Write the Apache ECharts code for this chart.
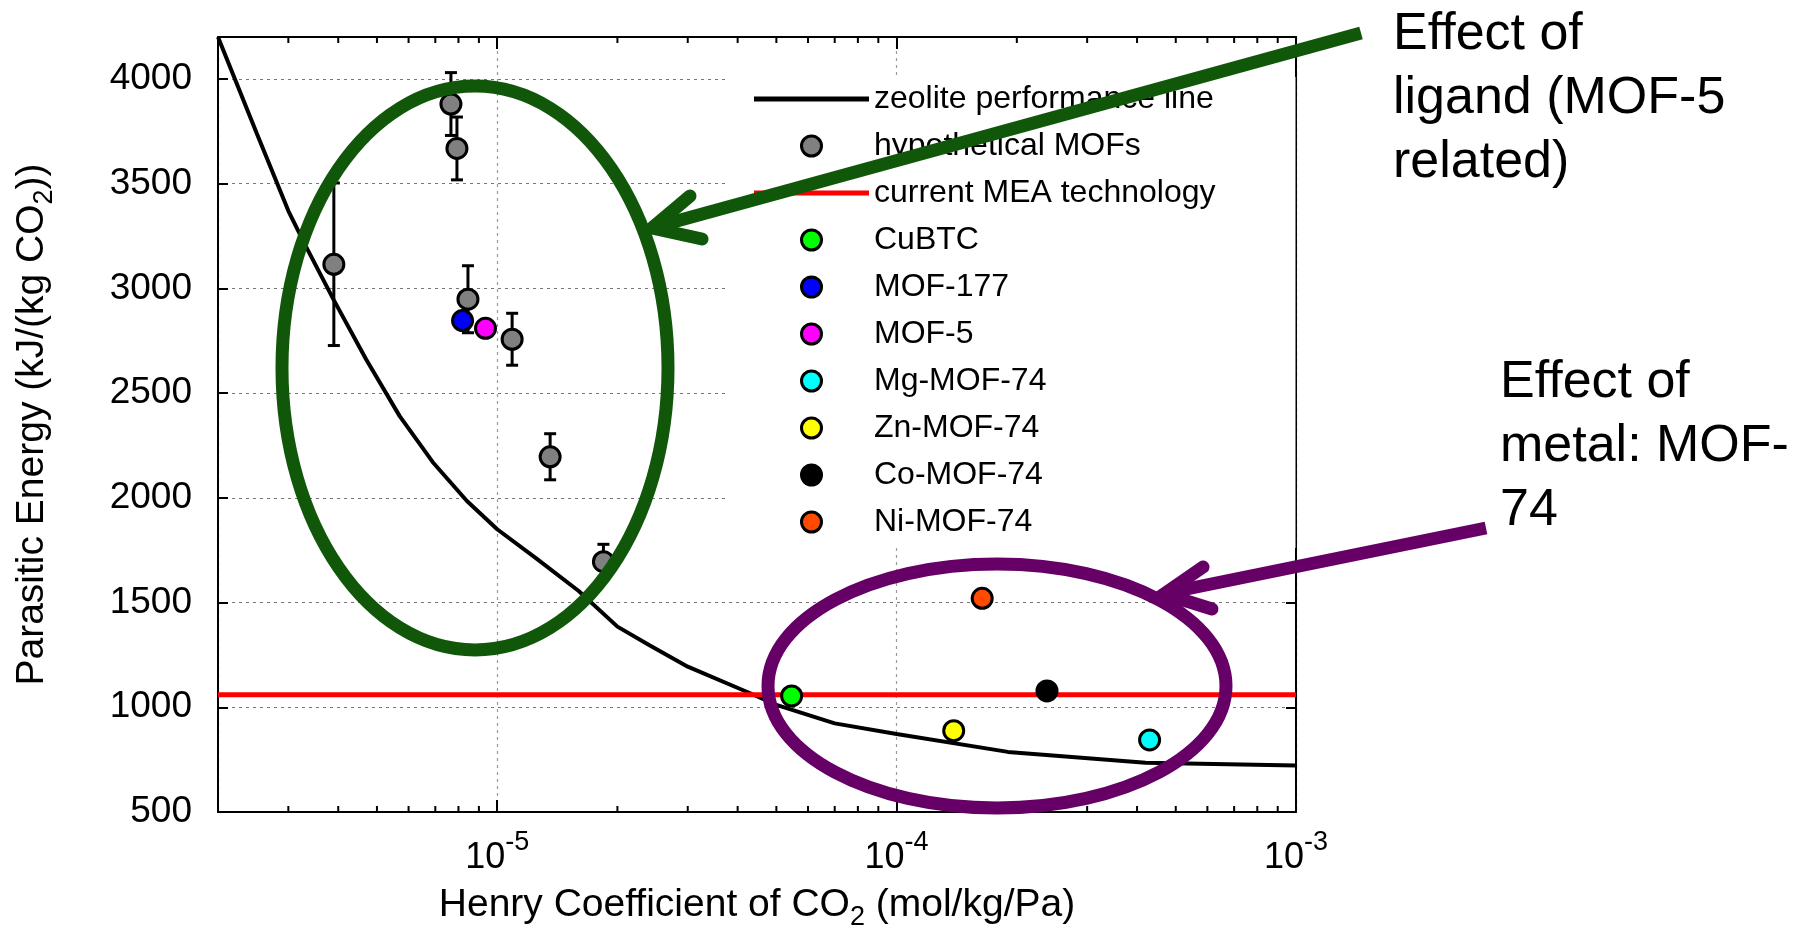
<!DOCTYPE html>
<html>
<head>
<meta charset="utf-8">
<script src="https://cdn.jsdelivr.net/npm/echarts@6/dist/echarts.min.js"></script>
<style>
html, body { margin: 0; padding: 0; background: #fff; }
#chart { width: 1810px; height: 930px; }
</style>
</head>
<body>
<div id="chart"></div>
<script>
// Zeolite performance line: Henry coefficient (mol/kg/Pa) vs parasitic energy (kJ/kg CO2)
const zeoliteX = [2.0e-6, 2.5e-6, 3.0e-6, 3.3e-6, 3.9e-6, 4.7e-6, 5.7e-6, 6.9e-6, 8.4e-6, 1.0e-5,
                  1.25e-5, 1.6e-5, 2.0e-5, 2.4e-5, 3.0e-5, 4.3e-5, 5.0e-5, 7.0e-5, 1.0e-4, 1.9e-4,
                  4.2e-4, 1.0e-3];
const zeoliteY = [4200, 3740, 3370, 3210, 2944, 2660, 2390, 2170, 1985, 1850,
                  1712, 1555, 1385, 1297, 1194, 1067, 1011, 923, 872, 787,
                  735, 722];

// Current MEA technology level
const meaEnergy = 1060;

// Hypothetical MOFs with error-bar half widths
const hypoX = [3.9e-6, 7.66e-6, 7.93e-6, 8.45e-6, 1.09e-5, 1.357e-5, 1.845e-5];
const hypoY = [3115, 3880, 3668, 2948, 2757, 2196, 1695];
const hypoErr = [388, 150, 150, 160, 124, 110, 83];

// Known materials
const materialNames = ['CuBTC', 'MOF-177', 'MOF-5', 'Mg-MOF-74', 'Zn-MOF-74', 'Co-MOF-74', 'Ni-MOF-74'];
const materialX = [5.46e-5, 8.19e-6, 9.35e-6, 4.3e-4, 1.39e-4, 2.38e-4, 1.638e-4];
const materialY = [1054, 2846, 2809, 844, 888, 1078, 1520];
const materialColors = ['#00ff00', '#0000ff', '#ff00ff', '#00ffff', '#ffff00', '#000000', '#ff4a00'];

// Axis ranges and log minor ticks
const xMin = 2e-6, xMax = 1e-3;
const yMin = 500, yMax = 4200, yStep = 500;
const minorTickValues = [3e-6, 4e-6, 5e-6, 6e-6, 7e-6, 8e-6, 9e-6,
                         2e-5, 3e-5, 4e-5, 5e-5, 6e-5, 7e-5, 8e-5, 9e-5,
                         2e-4, 3e-4, 4e-4, 5e-4, 6e-4, 7e-4, 8e-4, 9e-4];

const FONT = "'Liberation Sans', Arial, sans-serif";
const GREEN = '#10570a';
const PURPLE = '#660066';
// plain bar used as the legend swatch of the two line series
const LINE_ICON = 'path://M0,0L115,0L115,5L0,5Z';

const chart = echarts.init(document.getElementById('chart'), null, { renderer: 'canvas' });

function renderErrorBar(params, api) {
  const x = api.value(0);
  const lo = api.coord([x, api.value(1)]);
  const hi = api.coord([x, api.value(2)]);
  const half = 6;
  const style = { stroke: '#000', lineWidth: 3 };
  return {
    type: 'group',
    children: [
      { type: 'line', shape: { x1: lo[0], y1: lo[1], x2: hi[0], y2: hi[1] }, style: style },
      { type: 'line', shape: { x1: lo[0] - half, y1: lo[1], x2: lo[0] + half, y2: lo[1] }, style: style },
      { type: 'line', shape: { x1: hi[0] - half, y1: hi[1], x2: hi[0] + half, y2: hi[1] }, style: style }
    ]
  };
}

function renderMinorTick(params, api) {
  const x = api.value(0);
  const b = api.coord([x, yMin]);
  const t = api.coord([x, yMax]);
  const len = 6;
  const style = { stroke: '#000', lineWidth: 2 };
  return {
    type: 'group',
    children: [
      { type: 'line', shape: { x1: b[0], y1: b[1], x2: b[0], y2: b[1] - len }, style: style },
      { type: 'line', shape: { x1: t[0], y1: t[1], x2: t[0], y2: t[1] + len }, style: style }
    ]
  };
}

function decadeLabel(v) {
  const e = Math.round(Math.log10(v));
  if (Math.abs(Math.log10(v) - e) > 1e-6) return '';
  return '10{sup|' + e + '}';
}

const axisLineStyle = { lineStyle: { color: '#000', width: 2 } };

const series = [
  {
    name: 'zeolite performance line',
    type: 'line',
    data: zeoliteX.map((x, i) => [x, zeoliteY[i]]),
    symbol: 'none',
    lineStyle: { color: '#000', width: 4 },
    itemStyle: { color: '#000' },
    z: 2
  },
  {
    name: 'current MEA technology',
    type: 'line',
    data: [[xMin, meaEnergy], [xMax, meaEnergy]],
    symbol: 'none',
    lineStyle: { color: '#ff0000', width: 5 },
    itemStyle: { color: '#ff0000' },
    z: 2
  },
  {
    name: 'errorBars',
    type: 'custom',
    renderItem: renderErrorBar,
    data: hypoX.map((x, i) => [x, hypoY[i] - hypoErr[i], hypoY[i] + hypoErr[i]]),
    encode: { x: 0, y: [1, 2] },
    clip: false,
    silent: true,
    z: 3
  },
  {
    name: 'hypothetical MOFs',
    type: 'scatter',
    data: hypoX.map((x, i) => [x, hypoY[i]]),
    symbol: 'circle',
    symbolSize: 20,
    itemStyle: { color: '#808080', borderColor: '#000', borderWidth: 3, opacity: 1 },
    z: 4
  },
  {
    name: 'minorTicks',
    type: 'custom',
    renderItem: renderMinorTick,
    data: minorTickValues.map(v => [v, yMin]),
    encode: { x: 0, y: 1 },
    clip: false,
    silent: true,
    z: 6
  }
];

materialNames.forEach((name, i) => {
  series.push({
    name: name,
    type: 'scatter',
    data: [[materialX[i], materialY[i]]],
    symbol: 'circle',
    symbolSize: 20,
    itemStyle: { color: materialColors[i], borderColor: '#000', borderWidth: 3, opacity: 1 },
    z: 4
  });
});

const legendData = [
  { name: 'zeolite performance line', icon: LINE_ICON, itemStyle: { color: '#000', borderWidth: 0 } },
  { name: 'hypothetical MOFs' },
  { name: 'current MEA technology', icon: LINE_ICON, itemStyle: { color: '#ff0000', borderWidth: 0 } }
].concat(materialNames.map(n => ({ name: n })));

// subscript "2": a taller line box pushes the bottom-aligned digit below the baseline
const subStyle = { fontSize: 27, lineHeight: 51, verticalAlign: 'bottom', fontFamily: FONT, color: '#000' };

const option = {
  animation: false,
  backgroundColor: '#fff',
  textStyle: { fontFamily: FONT },
  grid: { left: 218, top: 37, width: 1078, height: 775, outerBoundsMode: 'none', containLabel: false },
  legend: {
    data: legendData,
    orient: 'vertical',
    left: 727,
    top: 77,
    padding: [6, 80, 10, 27],
    backgroundColor: '#fff',
    itemWidth: 115,
    itemHeight: 20,
    itemGap: 15,
    selectedMode: false,
    textStyle: { fontSize: 32, lineHeight: 32, color: '#000', fontFamily: FONT },
    itemStyle: { borderWidth: 3 },
    lineStyle: { width: 5 },
    z: 5
  },
  xAxis: [
    {
      type: 'log',
      logBase: 10,
      min: xMin,
      max: xMax,
      position: 'bottom',
      axisLine: Object.assign({ show: true, onZero: false }, axisLineStyle),
      axisTick: { show: true, inside: true, length: 12, lineStyle: { color: '#000', width: 2 } },
      axisLabel: {
        show: true,
        formatter: decadeLabel,
        color: '#000',
        fontFamily: FONT,
        fontSize: 36,
        lineHeight: 58,
        margin: 17,
        rich: {
          sup: { fontSize: 27, verticalAlign: 'top', fontFamily: FONT, color: '#000' }
        }
      },
      splitLine: { show: true, lineStyle: { color: '#9a9a9a', width: 1.2, type: [3, 4] } },
      name: 'Henry Coefficient of CO{sub|2} (mol/kg/Pa)',
      nameLocation: 'middle',
      nameGap: 68,
      nameMoveOverlap: false,
      nameTextStyle: {
        fontSize: 39,
        lineHeight: 42,
        color: '#000',
        fontFamily: FONT,
        rich: { sub: subStyle }
      }
    },
    {
      type: 'log',
      logBase: 10,
      min: xMin,
      max: xMax,
      position: 'top',
      axisLine: Object.assign({ show: true, onZero: false }, axisLineStyle),
      axisTick: { show: true, inside: true, length: 12, lineStyle: { color: '#000', width: 2 } },
      axisLabel: { show: false },
      splitLine: { show: false }
    }
  ],
  yAxis: [
    {
      type: 'value',
      min: yMin,
      max: yMax,
      interval: yStep,
      position: 'left',
      axisLine: Object.assign({ show: true, onZero: false }, axisLineStyle),
      axisTick: { show: true, inside: true, length: 10, lineStyle: { color: '#000', width: 2 } },
      axisLabel: {
        show: true,
        color: '#000',
        fontFamily: FONT,
        fontSize: 37,
        margin: 26,
        formatter: v => (v > 4000 ? '' : String(v))
      },
      splitLine: { show: true, lineStyle: { color: '#777', width: 1.2, type: [3, 4] } },
      name: 'Parasitic Energy (kJ/(kg CO{sub|2}))',
      nameLocation: 'middle',
      nameRotate: 90,
      nameGap: 160,
      nameTextStyle: {
        fontSize: 39,
        lineHeight: 42,
        color: '#000',
        fontFamily: FONT,
        rich: { sub: subStyle }
      }
    },
    {
      type: 'value',
      min: yMin,
      max: yMax,
      interval: yStep,
      position: 'right',
      axisLine: Object.assign({ show: true, onZero: false }, axisLineStyle),
      axisTick: { show: true, inside: true, length: 10, lineStyle: { color: '#000', width: 2 } },
      axisLabel: { show: false },
      splitLine: { show: false }
    }
  ],
  series: series,
  graphic: [
    // Ligand group outline and its callout
    { type: 'ellipse', z: 100, silent: true,
      shape: { cx: 475, cy: 368, rx: 193, ry: 282 },
      style: { fill: 'none', stroke: GREEN, lineWidth: 13 } },
    { type: 'line', z: 100, silent: true,
      shape: { x1: 655, y1: 227, x2: 1361, y2: 33 },
      style: { stroke: GREEN, lineWidth: 13, lineCap: 'butt' } },
    { type: 'polyline', z: 100, silent: true,
      shape: { points: [[690, 196], [652, 228], [702, 239]] },
      style: { fill: 'none', stroke: GREEN, lineWidth: 13, lineCap: 'round', lineJoin: 'miter' } },
    { type: 'text', z: 100, silent: true, left: 1393, top: 3,
      style: { text: 'Effect of\nligand (MOF-5\nrelated)', fontSize: 52, lineHeight: 64, fontFamily: FONT, fill: '#000' } },

    // Metal group outline and its callout
    { type: 'ellipse', z: 100, silent: true,
      shape: { cx: 997, cy: 686, rx: 229, ry: 122 },
      style: { fill: 'none', stroke: PURPLE, lineWidth: 13 } },
    { type: 'line', z: 100, silent: true,
      shape: { x1: 1167, y1: 593, x2: 1486, y2: 528 },
      style: { stroke: PURPLE, lineWidth: 13, lineCap: 'butt' } },
    { type: 'polyline', z: 100, silent: true,
      shape: { points: [[1203, 567], [1164, 594], [1212, 609]] },
      style: { fill: 'none', stroke: PURPLE, lineWidth: 13, lineCap: 'round', lineJoin: 'miter' } },
    { type: 'text', z: 100, silent: true, left: 1500, top: 351,
      style: { text: 'Effect of\nmetal: MOF-\n74', fontSize: 52, lineHeight: 64, fontFamily: FONT, fill: '#000' } }
  ]
};

chart.setOption(option);
</script>
</body>
</html>
